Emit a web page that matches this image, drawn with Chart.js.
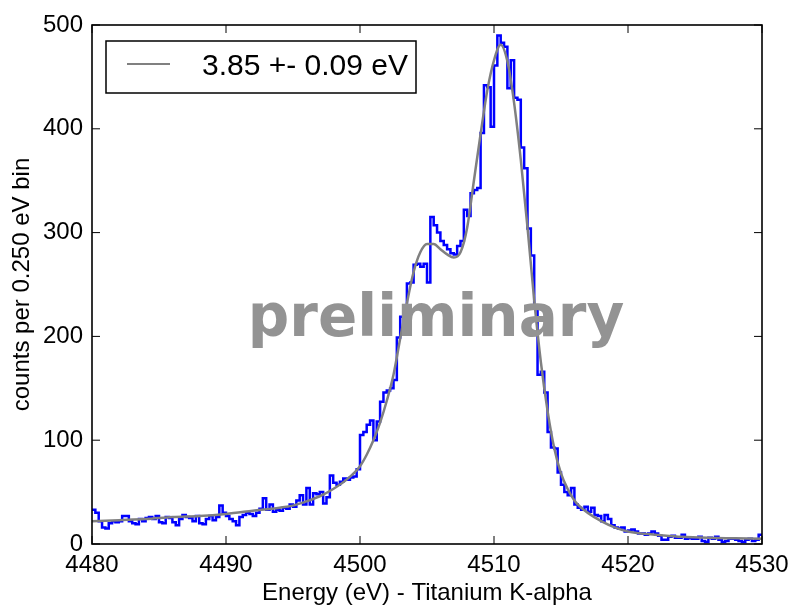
<!DOCTYPE html>
<html>
<head>
<meta charset="utf-8">
<script src="https://cdn.jsdelivr.net/npm/chart.js@4.4.0/dist/chart.umd.min.js"></script>
<style>
  html, body { margin: 0; padding: 0; background: #fff; }
  #wrap { width: 790px; height: 608px; }
</style>
</head>
<body>
<div id="wrap"><canvas id="spectrum" width="790" height="608"></canvas></div>
<script>
// histogram: 0.25 eV bins starting at 4480 eV
const binStart = 4480;
const binWidth = 0.25;
const counts = [
  33, 30, 22, 16, 15, 20, 22, 21,
  22, 27, 27, 22, 20, 19, 24, 22,
  25, 26, 24, 27, 21, 20, 26, 25,
  21, 18, 24, 28, 26, 25, 22, 27,
  20, 19, 24, 27, 23, 26, 37, 30,
  27, 24, 22, 18, 26, 28, 30, 29,
  27, 30, 34, 44, 33, 38, 31, 33,
  32, 35, 34, 38, 36, 42, 47, 38,
  54, 38, 49, 48, 50, 39, 45, 66,
  59, 57, 60, 63, 62, 64, 65, 72,
  105, 108, 115, 119, 100, 118, 137, 146,
  148, 150, 158, 199, 219, 224, 251, 252,
  269, 270, 267, 270, 252, 315, 307, 300,
  292, 288, 284, 280, 279, 287, 292, 322,
  316, 338, 341, 343, 396, 442, 440, 402,
  461, 490, 483, 479, 439, 466, 430, 428,
  382, 362, 304, 278, 227, 163, 166, 146,
  108, 93, 92, 69, 57, 50, 47, 54,
  38, 35, 33, 36, 31, 35, 28, 27,
  22, 28, 24, 18, 16, 15, 16, 12,
  13, 14, 12, 10, 10, 9, 10, 12,
  10, 8, 4, 4, 7, 8, 6, 6,
  9, 5, 6, 5, 5, 7, 3, 2,
  6, 5, 7, 4, 2, 3, 5, 5,
  4, 3, 2, 4, 5, 3, 4, 9
];

// fitted line profile
const fitEnergy = [4480, 4482, 4484, 4486, 4488, 4490, 4492, 4494, 4495, 4496, 4497, 4498, 4499, 4500,
  4500.5, 4501, 4501.5, 4502, 4502.5, 4503, 4503.5, 4504, 4504.5, 4505, 4505.5, 4506, 4506.5, 4507,
  4507.5, 4508, 4508.5, 4509, 4509.5, 4510, 4510.5, 4511, 4511.5, 4512, 4512.5, 4513, 4513.5, 4514,
  4514.5, 4515, 4515.5, 4516, 4516.5, 4517, 4518, 4519, 4520, 4521, 4522, 4524, 4526, 4528, 4530];
const fitCounts = [22, 23, 24, 26, 27, 29, 32, 35, 37, 41, 46, 53, 62, 75,
  86, 100, 117, 138, 163, 198, 232, 262, 281, 289, 289, 284, 279, 276,
  281, 305, 350, 395, 437, 466, 481, 465, 425, 370, 305, 235, 175, 128,
  92, 68, 53, 42, 35, 30, 22, 16, 12, 10, 9, 7, 6, 5.5, 5];

const xTicks = [4480, 4490, 4500, 4510, 4520, 4530];
const yTicks = [0, 100, 200, 300, 400, 500];
const legendLabel = '3.85 +- 0.09 eV';

const histPoints = counts.map((c, i) => ({ x: binStart + i * binWidth, y: c }));
histPoints.push({ x: binStart + counts.length * binWidth, y: counts[counts.length - 1] });
const fitPoints = fitEnergy.map((e, i) => ({ x: e, y: fitCounts[i] }));

const labelFont = { family: '"Liberation Sans", Arial, sans-serif', size: 24 };

const framePlugin = {
  id: 'frame',
  afterDraw(chart) {
    const { ctx, chartArea: a, scales } = chart;
    ctx.save();
    ctx.strokeStyle = '#000';
    ctx.lineWidth = 1;
    ctx.beginPath();
    xTicks.forEach(v => {
      const px = scales.x.getPixelForValue(v);
      ctx.moveTo(px, a.bottom); ctx.lineTo(px, a.bottom - 8);
      ctx.moveTo(px, a.top); ctx.lineTo(px, a.top + 8);
    });
    yTicks.forEach(v => {
      const py = scales.y.getPixelForValue(v);
      ctx.moveTo(a.left, py); ctx.lineTo(a.left + 8, py);
      ctx.moveTo(a.right, py); ctx.lineTo(a.right - 8, py);
    });
    ctx.stroke();
    ctx.lineWidth = 1.6;
    ctx.strokeRect(a.left, a.top, a.right - a.left, a.bottom - a.top);

    // watermark
    ctx.font = 'bold 58px "DejaVu Sans", sans-serif';
    ctx.fillStyle = '#939393';
    ctx.textAlign = 'center';
    ctx.textBaseline = 'alphabetic';
    ctx.fillText('preliminary', 436, 336);

    // legend
    const lx = a.left + 14, ly = a.top + 16;
    ctx.fillStyle = '#fff';
    ctx.fillRect(lx, ly, 310, 52);
    ctx.lineWidth = 1.5;
    ctx.strokeStyle = '#000';
    ctx.strokeRect(lx, ly, 310, 52);
    ctx.strokeStyle = '#808080';
    ctx.lineWidth = 2;
    ctx.beginPath();
    ctx.moveTo(lx + 21, ly + 23); ctx.lineTo(lx + 64, ly + 23);
    ctx.stroke();
    ctx.fillStyle = '#000';
    ctx.textAlign = 'left';
    ctx.font = '30px "Liberation Sans", Arial, sans-serif';
    ctx.fillText(legendLabel, lx + 96, ly + 34);
    ctx.restore();
  }
};

new Chart(document.getElementById('spectrum'), {
  type: 'line',
  data: {
    datasets: [
      {
        label: legendLabel,
        data: fitPoints,
        borderColor: '#808080',
        borderWidth: 2.5,
        pointRadius: 0,
        cubicInterpolationMode: 'monotone',
        fill: false,
        order: 0
      },
      {
        label: 'data',
        data: histPoints,
        borderColor: '#0000ff',
        borderWidth: 2.5,
        pointRadius: 0,
        stepped: 'before',
        fill: false,
        order: 1
      }
    ]
  },
  options: {
    responsive: false,
    devicePixelRatio: 1,
    animation: false,
    layout: { padding: { top: 25, right: 28, left: 0, bottom: 0 } },
    plugins: { legend: { display: false }, tooltip: { enabled: false } },
    scales: {
      x: {
        type: 'linear',
        min: 4480,
        max: 4530,
        afterFit: s => { s.height = 64; s.paddingLeft = 0; s.paddingRight = 0; },
        ticks: { stepSize: 10, color: '#000', font: labelFont, padding: 7, maxRotation: 0, callback: v => String(v) },
        grid: { display: false, drawTicks: false },
        border: { display: false },
        title: { display: true, text: 'Energy (eV) - Titanium K-alpha', color: '#000', font: labelFont, padding: 0 }
      },
      y: {
        min: 0,
        max: 500,
        afterFit: s => { s.width = 92; s.paddingTop = 0; s.paddingBottom = 0; },
        ticks: { stepSize: 100, color: '#000', font: labelFont, padding: 9 },
        grid: { display: false, drawTicks: false },
        border: { display: false },
        title: { display: true, text: 'counts per 0.250 eV bin', color: '#000', font: labelFont, padding: { top: 8, bottom: 0 } }
      }
    }
  },
  plugins: [framePlugin]
});
</script>
</body>
</html>
